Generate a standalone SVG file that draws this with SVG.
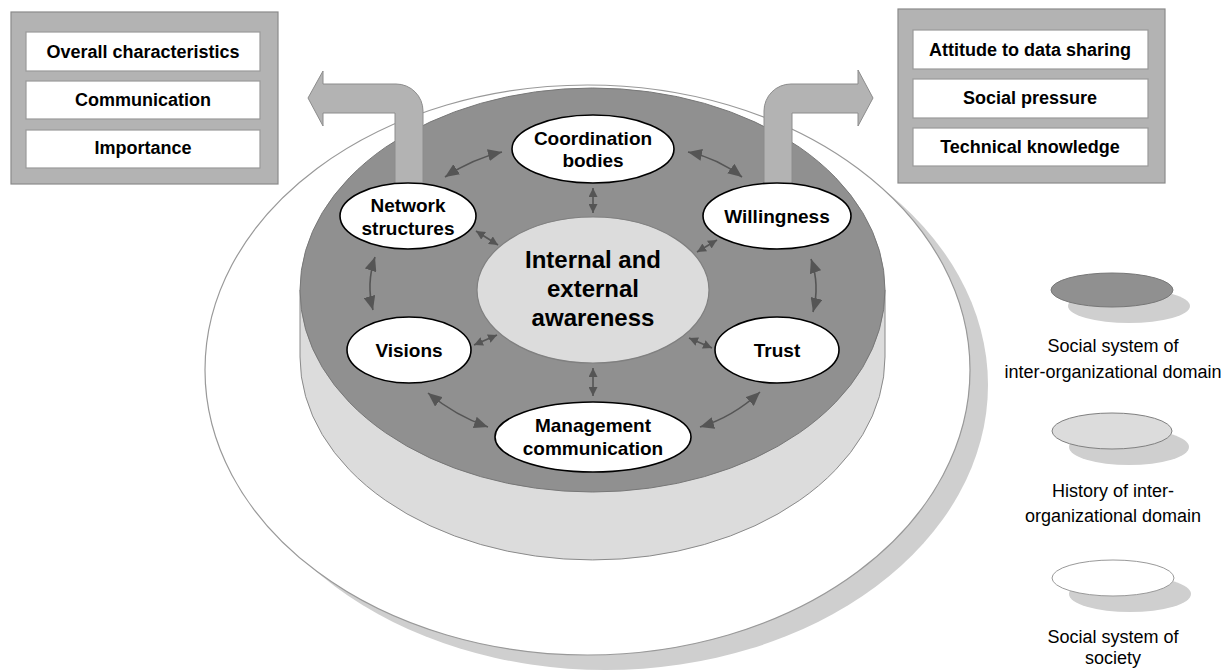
<svg xmlns="http://www.w3.org/2000/svg" width="1229" height="670" viewBox="0 0 1229 670">
<defs>
<style>
.bt{font-family:"Liberation Sans",Arial,sans-serif;font-weight:bold;font-size:18px;fill:#000;text-anchor:middle}
.nt{font-family:"Liberation Sans",Arial,sans-serif;font-weight:bold;font-size:19px;fill:#000;text-anchor:middle}
.ct{font-family:"Liberation Sans",Arial,sans-serif;font-weight:bold;font-size:24px;fill:#000;text-anchor:middle}
.lt{font-family:"Liberation Sans",Arial,sans-serif;font-size:18px;fill:#000;text-anchor:middle}
.node{fill:#fff;stroke:#000;stroke-width:1.6}
.panel{fill:#b3b3b3;stroke:#8a8a8a;stroke-width:1.2}
.cell{fill:#fff;stroke:#9a9a9a;stroke-width:1.2}
.big{fill:#b3b3b3;stroke:#8c8c8c;stroke-width:1}
.con{fill:none;stroke:#555;stroke-width:1.6}
.cl{marker-start:url(#ah);marker-end:url(#ah)}
.cs{marker-start:url(#as);marker-end:url(#as)}
.shadow{fill:#cfcfcf}
</style>
<marker id="ah" markerUnits="userSpaceOnUse" markerWidth="15" markerHeight="12" refX="14" refY="6" orient="auto-start-reverse" viewBox="0 0 15 12">
<path d="M0,0 L14,6 L0,12 Z" fill="#555"/>
</marker>
<marker id="as" markerUnits="userSpaceOnUse" markerWidth="10" markerHeight="9" refX="9" refY="4.5" orient="auto-start-reverse" viewBox="0 0 10 9">
<path d="M0,0 L9,4.5 L0,9 Z" fill="#555"/>
</marker>
</defs>
<rect width="1229" height="670" fill="#fff"/>

<g id="society">
<ellipse class="shadow" cx="605.5" cy="385" rx="382.5" ry="285"/>
<ellipse cx="587.5" cy="370" rx="382.5" ry="285" fill="#fff" stroke="#999" stroke-width="1.2"/>
</g>

<g id="history">
<path d="M300,290 L300,357 A292.5,203 0 0 0 885,357 L885,290 Z" fill="#dcdcdc" stroke="#8a8a8a" stroke-width="1"/>
</g>

<g id="social-domain">
<ellipse cx="592.5" cy="290" rx="292.5" ry="202" fill="#909090" stroke="#777" stroke-width="1"/>
</g>

<g id="arrow-left">
<path class="big" d="M395,200 L395,113 L323,113 L323,126 L308,98 L323,71 L323,84 L396,84 A27,27 0 0 1 423,111 L423,200 Z"/>
</g>
<g id="arrow-right">
<path class="big" d="M764,200 L764,111 A27,27 0 0 1 791,84 L858,84 L858,70 L873,98 L858,126 L858,113 L792,113 L792,200 Z"/>
</g>

<g id="center">
<ellipse cx="593" cy="290" rx="116" ry="73" fill="#dcdcdc" stroke="#808080" stroke-width="1.2"/>
<text class="ct" x="593" y="268">Internal and</text>
<text class="ct" x="593" y="297">external</text>
<text class="ct" x="593" y="326">awareness</text>
</g>

<g id="connectors">
<path class="con cl" d="M445,177 Q472,159 502,152"/>
<path class="con cl" d="M688,152 Q717,158 742,177"/>
<path class="con cl" d="M375,257 Q366,284 373,310"/>
<path class="con cl" d="M811,259 Q820,285 813,312"/>
<path class="con cl" d="M428,393 Q456,416 488,427"/>
<path class="con cl" d="M700,427 Q733,417 760,392"/>
<path class="con cs" d="M593,188 L593,213"/>
<path class="con cs" d="M476,231 L498,245"/>
<path class="con cs" d="M717,240 L697,252"/>
<path class="con cs" d="M474,345 L497,335"/>
<path class="con cs" d="M689,338 L712,348"/>
<path class="con cs" d="M593,368 L593,396"/>
</g>

<g id="coordination-bodies">
<ellipse class="node" cx="593" cy="149" rx="81" ry="34"/>
<text class="nt" x="593" y="145">Coordination</text>
<text class="nt" x="593" y="167">bodies</text>
</g>
<g id="network-structures">
<ellipse class="node" cx="408" cy="216" rx="68" ry="33"/>
<text class="nt" x="408" y="212">Network</text>
<text class="nt" x="408" y="235">structures</text>
</g>
<g id="willingness">
<ellipse class="node" cx="777" cy="216" rx="74" ry="33"/>
<text class="nt" x="777" y="223">Willingness</text>
</g>
<g id="visions">
<ellipse class="node" cx="409" cy="350" rx="62" ry="33"/>
<text class="nt" x="409" y="357">Visions</text>
</g>
<g id="trust">
<ellipse class="node" cx="777" cy="350" rx="62" ry="33"/>
<text class="nt" x="777" y="357">Trust</text>
</g>
<g id="management-communication">
<ellipse class="node" cx="593" cy="437" rx="98" ry="35"/>
<text class="nt" x="593" y="432">Management</text>
<text class="nt" x="593" y="455">communication</text>
</g>

<g id="left-panel">
<rect class="panel" x="11" y="12" width="267" height="172"/>
<rect class="cell" x="26" y="32" width="234" height="39"/>
<rect class="cell" x="26" y="81" width="234" height="38"/>
<rect class="cell" x="26" y="130" width="234" height="38"/>
<text class="bt" x="143" y="58">Overall characteristics</text>
<text class="bt" x="143" y="106">Communication</text>
<text class="bt" x="143" y="154">Importance</text>
</g>

<g id="right-panel">
<rect class="panel" x="898" y="9" width="267" height="174"/>
<rect class="cell" x="913" y="30" width="235" height="39"/>
<rect class="cell" x="913" y="79" width="235" height="39"/>
<rect class="cell" x="913" y="128" width="235" height="38"/>
<text class="bt" x="1030" y="56">Attitude to data sharing</text>
<text class="bt" x="1030" y="104">Social pressure</text>
<text class="bt" x="1030" y="153">Technical knowledge</text>
</g>

<g id="legend-domain">
<ellipse class="shadow" cx="1129" cy="306" rx="61" ry="17"/>
<ellipse cx="1112" cy="290" rx="61" ry="17" fill="#909090" stroke="#777" stroke-width="1"/>
<text class="lt" x="1113" y="352">Social system of</text>
<text class="lt" x="1113" y="378">inter-organizational domain</text>
</g>
<g id="legend-history">
<ellipse class="shadow" cx="1129" cy="447" rx="60" ry="18"/>
<ellipse cx="1112" cy="431" rx="60" ry="18" fill="#dcdcdc" stroke="#808080" stroke-width="1"/>
<text class="lt" x="1113" y="497">History of inter-</text>
<text class="lt" x="1113" y="522">organizational domain</text>
</g>
<g id="legend-society">
<ellipse class="shadow" cx="1130" cy="594" rx="61" ry="18"/>
<ellipse cx="1113" cy="578" rx="61" ry="18" fill="#fff" stroke="#999" stroke-width="1"/>
<text class="lt" x="1113" y="643">Social system of</text>
<text class="lt" x="1113" y="664">society</text>
</g>
</svg>
